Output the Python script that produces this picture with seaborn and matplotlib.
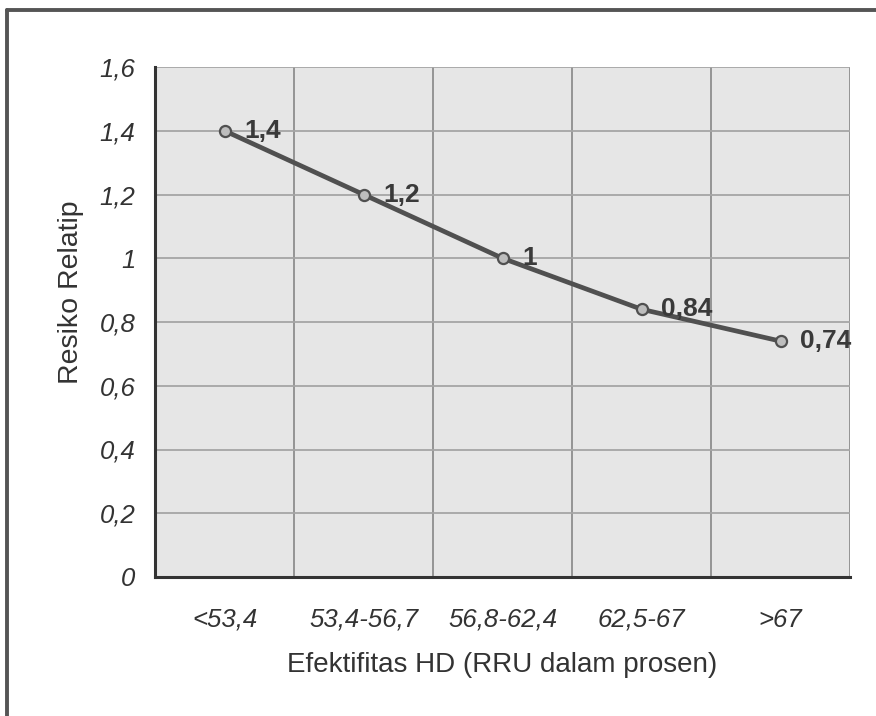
import matplotlib
matplotlib.use("Agg")
import matplotlib.pyplot as plt
import seaborn as sns
import pandas as pd
import numpy as np
from matplotlib.lines import Line2D

categories = ["<53,4", "53,4-56,7", "56,8-62,4", "62,5-67", ">67"]
values = [1.4, 1.2, 1.0, 0.84, 0.74]
value_labels = ["1,4", "1,2", "1", "0,84", "0,74"]
yticks = [0, 0.2, 0.4, 0.6, 0.8, 1.0, 1.2, 1.4, 1.6]
ytick_labels = ["0", "0,2", "0,4", "0,6", "0,8", "1", "1,2", "1,4", "1,6"]

sns.set_style("white")
plt.rcParams['font.family'] = ['Liberation Sans', 'DejaVu Sans']

fig = plt.figure(figsize=(8.76, 7.16), dpi=100)
ax = fig.add_axes([155/876, 139/716, 695/876, 510/716])

df = pd.DataFrame({"x": np.arange(len(categories)), "y": values})
sns.lineplot(data=df, x="x", y="y", ax=ax, color="#505050", linewidth=3.4,
             marker="o", markersize=8, markerfacecolor="#bdbdbd",
             markeredgecolor="#505050", markeredgewidth=1.6, zorder=3)

ax.set_facecolor("#e6e6e6")
ax.set_xlim(-0.5, len(categories) - 0.5)
ax.set_ylim(0, 1.6)

ax.set_yticks(yticks)
ax.set_yticklabels(ytick_labels, fontsize=18.5, style="italic", color="#333333")
ax.set_xticks(np.arange(-0.5, len(categories), 1.0))
ax.set_xticklabels([""] * (len(categories) + 1))
ax.set_xticks(np.arange(len(categories)), minor=True)
ax.set_xticklabels(categories, minor=True, fontsize=18.5, style="italic", color="#333333")
ax.tick_params(axis="x", which="minor", length=0, pad=22)
ax.tick_params(axis="x", which="major", length=7, width=1.8, color="#333333", direction="out")
ax.tick_params(axis="y", which="major", length=6, width=1.8, color="#333333", direction="out", pad=8)

ax.grid(True, which="major", axis="y", color="#a5a5a5", linewidth=1.3, linestyle="-")
ax.grid(True, which="major", axis="x", color="#8e8e8e", linewidth=1.3, linestyle="-")
ax.set_axisbelow(True)

for s in ["top", "right"]:
    ax.spines[s].set_visible(False)
for s in ["left", "bottom"]:
    ax.spines[s].set_color("#333333")
    ax.spines[s].set_linewidth(2.2)

for i, (v, lab) in enumerate(zip(values, value_labels)):
    ax.annotate(lab, (i, v), xytext=(14, 0), textcoords="offset points",
                ha="left", va="center", fontsize=19, fontweight="bold", color="#3a3a3a")

ax.set_xlabel("Efektifitas HD (RRU dalam prosen)", fontsize=20, color="#333333")
ax.xaxis.set_label_coords(0.5, (577 - 652) / 510)
ax.set_ylabel("Resiko Relatip", fontsize=20.5, color="#333333")
ax.yaxis.set_label_coords(-(155 - 84) / 695, (577 - 292) / 510)

W, H = 876, 716
fig.lines.append(Line2D([7/W, 1.0], [1 - 10/H, 1 - 10/H], transform=fig.transFigure,
                        color="#555555", linewidth=2.8))
fig.lines.append(Line2D([7/W, 7/W], [0.0, 1 - 10/H], transform=fig.transFigure,
                        color="#555555", linewidth=2.8))

fig.savefig("out.png", dpi=100)
